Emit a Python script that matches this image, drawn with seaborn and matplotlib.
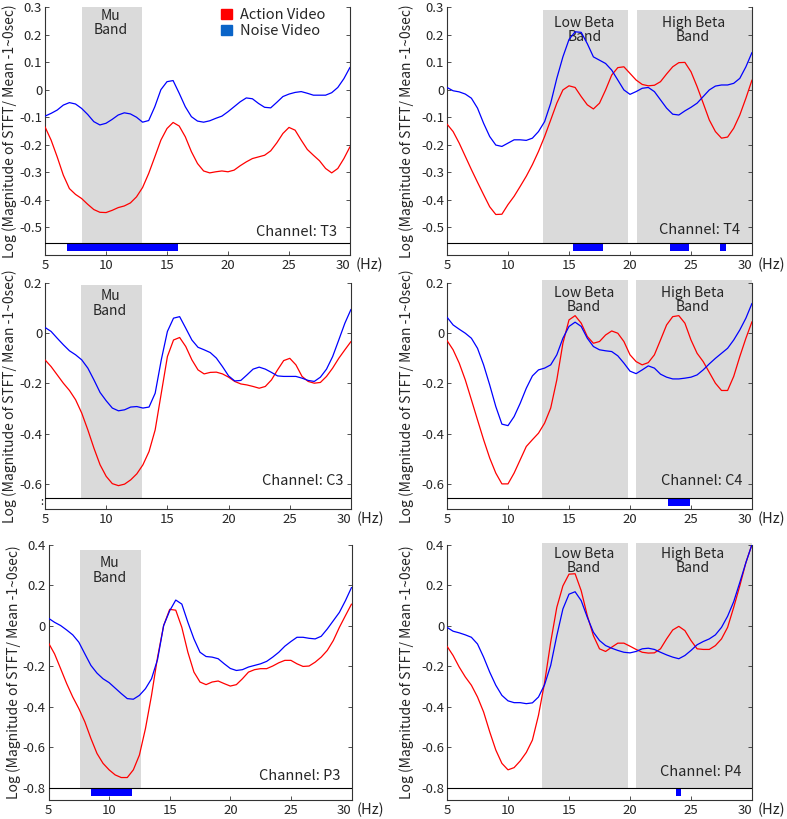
import numpy as np
import pandas as pd
import matplotlib
matplotlib.use("Agg")
import matplotlib.pyplot as plt
from matplotlib.patches import Patch
import seaborn as sns

# frequency grid (Hz) the curves were read at
freq = np.arange(5, 30.01, 0.5)

t3_action = [-0.135, -0.183, -0.244, -0.310, -0.359, -0.380, -0.395, -0.416, -0.435, -0.445,
             -0.446, -0.438, -0.428, -0.422, -0.411, -0.389, -0.355, -0.304, -0.244, -0.183,
             -0.141, -0.119, -0.132, -0.171, -0.225, -0.268, -0.295, -0.302, -0.298, -0.295,
             -0.298, -0.292, -0.276, -0.262, -0.250, -0.244, -0.238, -0.222, -0.193, -0.159,
             -0.137, -0.147, -0.183, -0.217, -0.238, -0.258, -0.286, -0.302, -0.286, -0.250,
             -0.207]
t3_noise = [-0.096, -0.086, -0.074, -0.056, -0.047, -0.052, -0.068, -0.090, -0.116, -0.128,
            -0.122, -0.108, -0.092, -0.084, -0.088, -0.100, -0.118, -0.112, -0.062, 0.000,
            0.029, 0.033, -0.013, -0.062, -0.098, -0.114, -0.118, -0.113, -0.104, -0.096,
            -0.080, -0.062, -0.044, -0.030, -0.033, -0.050, -0.064, -0.066, -0.046, -0.025,
            -0.016, -0.010, -0.007, -0.013, -0.020, -0.020, -0.020, -0.011, 0.008, 0.040,
            0.081]

t4_action = [-0.125, -0.152, -0.194, -0.242, -0.290, -0.336, -0.381, -0.425, -0.453, -0.452,
             -0.417, -0.387, -0.351, -0.314, -0.272, -0.224, -0.170, -0.110, -0.049, -0.001,
             0.014, 0.008, -0.025, -0.055, -0.070, -0.049, -0.001, 0.053, 0.080, 0.083,
             0.059, 0.035, 0.019, 0.014, 0.016, 0.029, 0.057, 0.083, 0.098, 0.099,
             0.065, 0.011, -0.049, -0.110, -0.152, -0.176, -0.172, -0.140, -0.092, -0.031,
             0.035]
t4_noise = [0.008, -0.004, -0.008, -0.016, -0.031, -0.067, -0.122, -0.170, -0.201, -0.206,
            -0.194, -0.182, -0.182, -0.184, -0.176, -0.152, -0.116, -0.049, 0.041, 0.119,
            0.182, 0.210, 0.208, 0.167, 0.119, 0.107, 0.095, 0.071, 0.035, -0.001,
            -0.017, -0.007, 0.005, 0.008, -0.007, -0.037, -0.067, -0.089, -0.092, -0.077,
            -0.064, -0.049, -0.025, -0.001, 0.013, 0.017, 0.017, 0.023, 0.041, 0.083,
            0.135]

c3_action = [-0.106, -0.133, -0.166, -0.199, -0.228, -0.265, -0.318, -0.385, -0.458, -0.524,
             -0.570, -0.599, -0.607, -0.601, -0.584, -0.560, -0.524, -0.471, -0.385, -0.239,
             -0.093, -0.027, -0.017, -0.053, -0.106, -0.146, -0.162, -0.156, -0.155, -0.162,
             -0.175, -0.192, -0.202, -0.206, -0.212, -0.219, -0.212, -0.186, -0.146, -0.109,
             -0.100, -0.126, -0.172, -0.192, -0.199, -0.196, -0.172, -0.139, -0.100, -0.066,
             -0.033]
c3_noise = [0.023, 0.007, -0.020, -0.046, -0.070, -0.086, -0.106, -0.139, -0.186, -0.236,
            -0.269, -0.298, -0.309, -0.305, -0.294, -0.292, -0.298, -0.294, -0.239, -0.106,
            0.007, 0.060, 0.066, 0.020, -0.027, -0.056, -0.066, -0.077, -0.099, -0.133,
            -0.170, -0.190, -0.188, -0.166, -0.143, -0.135, -0.143, -0.156, -0.170, -0.172,
            -0.172, -0.172, -0.179, -0.188, -0.192, -0.175, -0.143, -0.093, -0.027, 0.040,
            0.095]

c4_action = [-0.029, -0.066, -0.119, -0.186, -0.265, -0.345, -0.424, -0.497, -0.557, -0.600,
             -0.600, -0.557, -0.504, -0.451, -0.424, -0.398, -0.358, -0.298, -0.186, -0.040,
             0.053, 0.070, 0.040, -0.013, -0.040, -0.033, -0.007, 0.009, 0.000, -0.033,
             -0.086, -0.113, -0.126, -0.117, -0.086, -0.027, 0.033, 0.066, 0.070, 0.040,
             -0.027, -0.080, -0.113, -0.156, -0.199, -0.228, -0.228, -0.172, -0.093, -0.020,
             0.046]
c4_noise = [0.064, 0.033, 0.016, 0.000, -0.020, -0.060, -0.126, -0.206, -0.292, -0.362,
            -0.368, -0.332, -0.279, -0.219, -0.170, -0.146, -0.139, -0.126, -0.086, -0.020,
            0.027, 0.044, 0.027, -0.020, -0.053, -0.066, -0.070, -0.073, -0.090, -0.119,
            -0.151, -0.161, -0.146, -0.130, -0.139, -0.163, -0.175, -0.182, -0.182, -0.179,
            -0.175, -0.166, -0.146, -0.122, -0.100, -0.080, -0.060, -0.027, 0.013, 0.060,
            0.119]

p3_action = [-0.084, -0.138, -0.211, -0.285, -0.351, -0.408, -0.474, -0.556, -0.630, -0.679,
             -0.711, -0.736, -0.749, -0.749, -0.711, -0.638, -0.507, -0.343, -0.154, 0.002,
             0.082, 0.078, -0.007, -0.130, -0.228, -0.277, -0.290, -0.277, -0.272, -0.285,
             -0.297, -0.290, -0.261, -0.228, -0.216, -0.211, -0.211, -0.198, -0.182, -0.170,
             -0.170, -0.187, -0.200, -0.198, -0.179, -0.154, -0.121, -0.072, -0.007, 0.051,
             0.108]
p3_noise = [0.038, 0.018, 0.002, -0.020, -0.044, -0.080, -0.138, -0.195, -0.233, -0.261,
            -0.280, -0.307, -0.334, -0.359, -0.362, -0.343, -0.310, -0.261, -0.165, 0.002,
            0.075, 0.128, 0.108, 0.018, -0.064, -0.130, -0.151, -0.154, -0.162, -0.187,
            -0.210, -0.220, -0.216, -0.203, -0.195, -0.187, -0.175, -0.154, -0.130, -0.100,
            -0.077, -0.056, -0.056, -0.061, -0.064, -0.051, -0.015, 0.026, 0.067, 0.125,
            0.190]

p4_action = [-0.100, -0.146, -0.203, -0.252, -0.293, -0.351, -0.425, -0.523, -0.613, -0.679,
             -0.711, -0.700, -0.667, -0.625, -0.564, -0.441, -0.280, -0.080, 0.092, 0.198,
             0.256, 0.258, 0.174, 0.051, -0.048, -0.113, -0.126, -0.105, -0.085, -0.085,
             -0.100, -0.116, -0.130, -0.134, -0.133, -0.113, -0.064, -0.020, -0.002, -0.023,
             -0.072, -0.113, -0.116, -0.116, -0.097, -0.064, -0.007, 0.092, 0.198, 0.313,
             0.403]
p4_noise = [-0.007, -0.026, -0.034, -0.044, -0.056, -0.089, -0.154, -0.228, -0.293, -0.343,
            -0.370, -0.379, -0.379, -0.384, -0.380, -0.351, -0.290, -0.195, -0.048, 0.084,
            0.157, 0.169, 0.125, 0.043, -0.031, -0.072, -0.097, -0.110, -0.121, -0.130,
            -0.133, -0.126, -0.113, -0.110, -0.116, -0.130, -0.143, -0.154, -0.162, -0.146,
            -0.121, -0.093, -0.077, -0.064, -0.044, -0.007, 0.048, 0.120, 0.215, 0.313,
            0.403]

# frequency bands (Hz)
mu_t3 = (8.0, 12.95)
mu_c3 = (7.93, 12.9)
mu_p3 = (7.6, 12.65)
beta_t4 = [(12.85, 19.87), (20.55, 30.0)]
beta_c4 = [(12.8, 19.8), (20.47, 30.0)]
beta_p4 = [(12.8, 19.82), (20.5, 30.0)]

# significant differences (Hz ranges)
sig_t3 = [(6.8, 15.9)]
sig_t4 = [(15.3, 17.8), (23.25, 24.87), (27.35, 27.9)]
sig_c3 = []
sig_c4 = [(23.1, 24.95)]
sig_p3 = [(8.5, 11.9)]
sig_p4 = [(23.8, 24.15)]

yt_t = [0.3, 0.2, 0.1, 0, -0.1, -0.2, -0.3, -0.4, -0.5]
yt_c = [0.2, 0, -0.2, -0.4, -0.6]
yt_p = [0.4, 0.2, 0, -0.2, -0.4, -0.6, -0.8]
xt = [5, 10, 15, 20, 25, 30]

RED = "#FF0000"
BLUE = "#0000FF"
GREY = "#DADADA"

sns.set_style("ticks")
plt.rcParams['font.family'] = ['Noto Sans CJK KR', 'DejaVu Sans']
plt.rcParams['xtick.direction'] = 'in'
plt.rcParams['ytick.direction'] = 'in'

W, H = 787, 819
fig = plt.figure(figsize=(W / 100, H / 100), dpi=100)

panels = [
    dict(ch="T3", a=t3_action, n=t3_noise, box=(45, 7, 350, 255), ylim=(-0.6, 0.3), line=-0.557,
         yt=yt_t, bands=[mu_t3], labels=["Mu\nBand"], btop=0.3, lab_y=0.935, sig=sig_t3,
         chpos=(0.957, 0.094)),
    dict(ch="T4", a=t4_action, n=t4_noise, box=(447, 7, 752, 255), ylim=(-0.6, 0.3), line=-0.557,
         yt=yt_t, bands=beta_t4, labels=["Low Beta\nBand", "High Beta\nBand"], btop=0.29,
         lab_y=0.907, sig=sig_t4, chpos=(0.96, 0.10)),
    dict(ch="C3", a=c3_action, n=c3_noise, box=(45, 283, 351, 509), ylim=(-0.7, 0.2), line=-0.655,
         yt=yt_c, bands=[mu_c3], labels=["Mu\nBand"], btop=0.193, lab_y=0.91, sig=sig_c3,
         chpos=(0.974, 0.124)),
    dict(ch="C4", a=c4_action, n=c4_noise, box=(447, 283, 752, 509), ylim=(-0.7, 0.2), line=-0.655,
         yt=yt_c, bands=beta_c4, labels=["Low Beta\nBand", "High Beta\nBand"], btop=0.213,
         lab_y=0.925, sig=sig_c4, chpos=(0.968, 0.124)),
    dict(ch="P3", a=p3_action, n=p3_noise, box=(48.5, 545, 351.5, 800), ylim=(-0.86, 0.4), line=-0.8,
         yt=yt_p, bands=[mu_p3], labels=["Mu\nBand"], btop=0.375, lab_y=0.90, sig=sig_p3,
         chpos=(0.962, 0.095)),
    dict(ch="P4", a=p4_action, n=p4_noise, box=(447, 545, 752, 800), ylim=(-0.86, 0.4), line=-0.8,
         yt=yt_p, bands=beta_p4, labels=["Low Beta\nBand", "High Beta\nBand"], btop=0.41,
         lab_y=0.937, sig=sig_p4, chpos=(0.966, 0.109)),
]

for i, p in enumerate(panels):
    x0, y0, x1, y1 = p["box"]
    ax = fig.add_axes([x0 / W, 1 - y1 / H, (x1 - x0) / W, (y1 - y0) / H])
    lo, hi = p["ylim"]
    line = p["line"]

    for (b0, b1), lab in zip(p["bands"], p["labels"]):
        ax.fill_between([b0, b1], line, p["btop"], color=GREY, lw=0, zorder=0,
                        clip_on=p["btop"] <= hi)
        ax.text((b0 + b1) / 2 - 0.1, p["lab_y"], lab, transform=ax.get_xaxis_transform(),
                ha="center", va="center", fontsize=10, linespacing=1.05)

    df = pd.DataFrame({
        "freq": np.concatenate([freq, freq]),
        "value": np.concatenate([p["a"], p["n"]]),
        "cond": ["Action Video"] * len(freq) + ["Noise Video"] * len(freq),
    })
    sns.lineplot(data=df, x="freq", y="value", hue="cond",
                 palette={"Action Video": RED, "Noise Video": BLUE},
                 lw=0.9, legend=False, ax=ax, zorder=3)

    ax.axhline(line, color="black", lw=0.8, zorder=4)
    bar_bottom = line - 0.7 * (line - lo)
    for s0, s1 in p["sig"]:
        ax.fill_between([s0, s1], bar_bottom, line, color=BLUE, lw=0, zorder=3)

    ax.set_xlim(5, 30)
    ax.set_ylim(lo, hi)
    ax.set_xticks(xt)
    ax.set_xticklabels([str(v) for v in xt])
    ax.get_xticklabels()[-1].set_ha("right")
    ax.set_yticks(p["yt"])
    ax.set_yticklabels(["0" if v == 0 else f"{v:g}" for v in p["yt"]])
    ax.tick_params(axis="both", labelsize=9.5, length=3, width=0.6, color="#333333")
    ax.tick_params(axis="y", right=True, pad=2)
    ax.tick_params(axis="x", pad=3)
    ax.set_xlabel("")
    ax.set_ylabel("Log (Magnitude of STFT/ Mean -1~0sec)", fontsize=10)
    lx = -0.092 if i % 2 == 0 else -0.108
    ax.yaxis.set_label_coords(lx, 0.5)
    for side in ["left", "right", "bottom"]:
        ax.spines[side].set_linewidth(0.8)
        ax.spines[side].set_color("#333333")
    ax.spines["top"].set_visible(False)

    ax.text(p["chpos"][0], p["chpos"][1], f"Channel: {p['ch']}", transform=ax.transAxes,
            ha="right", va="center", fontsize=10.5)
    ax.annotate("(Hz)", xy=(1, 0), xycoords="axes fraction", xytext=(4, -7),
                textcoords="offset points", ha="left", va="center", fontsize=10.5)

    if p["ch"] == "C3":
        # clipped tick label remnant in the C3 strip
        ax.text(-3 / 306, 0.031, ":", transform=ax.transAxes, ha="center", va="center",
                fontsize=8)

    if i == 0:
        handles = [Patch(color=RED), Patch(color="#0A64C8")]
        ax.legend(handles, ["Action Video", "Noise Video"], loc="upper left",
                  bbox_to_anchor=(0.578, 0.995), frameon=False, fontsize=10.5,
                  handlelength=0.72, handleheight=0.72, handletextpad=0.55,
                  labelspacing=0.12, borderpad=0, borderaxespad=0)

fig.savefig("out.png", dpi=100)
